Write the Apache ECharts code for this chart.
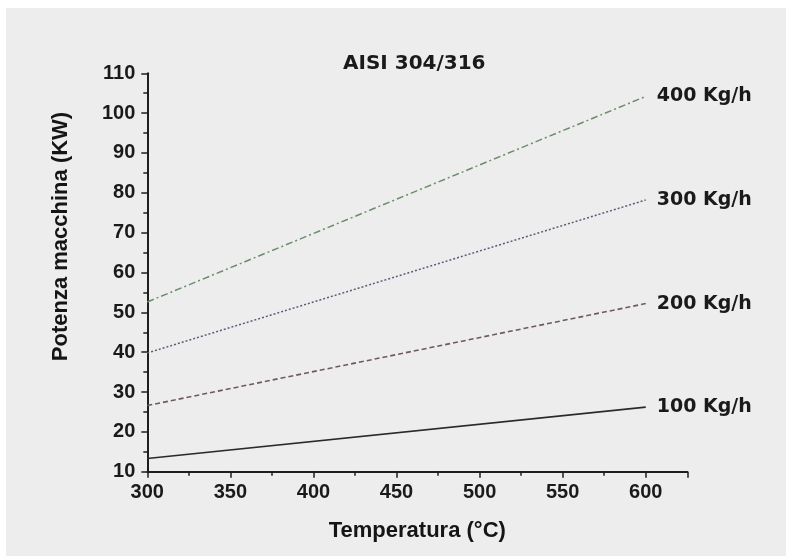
<!DOCTYPE html>
<html>
<head>
<meta charset="utf-8">
<script src="https://cdn.jsdelivr.net/npm/echarts@6/dist/echarts.min.js"></script>
<style>
  html, body { margin: 0; padding: 0; background: #ffffff; width: 786px; height: 556px; overflow: hidden; }
  #chart { position: absolute; left: 6px; top: 8px; width: 780px; height: 548px; background: #ededed; }
</style>
</head>
<body>
<div id="chart"></div>
<script>
// ---- data ----
const titleText = 'AISI 304/316';
const xAxisName = 'Temperatura (°C)';
const yAxisName = 'Potenza macchina (KW)';
const temperatures = [300, 600];
const seriesNames = ['400 Kg/h', '300 Kg/h', '200 Kg/h', '100 Kg/h'];
const power400 = [52.6, 104.2];
const power300 = [39.8, 78.2];
const power200 = [26.6, 52.2];
const power100 = [13.3, 26.2];
const xTicks = { min: 300, max: 625, interval: 50 };
const yTicks = { min: 10, max: 110, interval: 10 };

// ---- styles ----
const seriesValues = [power400, power300, power200, power100];
const lineStyles = [
  { color: '#6c8d6d', width: 1.5, type: [7, 3, 2, 3] },
  { color: '#5c5c78', width: 1.5, type: [2, 2] },
  { color: '#6e5a5d', width: 1.6, type: [5, 3] },
  { color: '#2a2a2a', width: 1.6, type: 'solid' }
];

const chart = echarts.init(document.getElementById('chart'), null, { renderer: 'canvas' });

const series = seriesNames.map((name, i) => ({
  name: name,
  type: 'line',
  data: temperatures.map((t, j) => [t, seriesValues[i][j]]),
  showSymbol: false,
  symbol: 'none',
  lineStyle: lineStyles[i],
  emphasis: { disabled: true },
  endLabel: {
    show: true,
    formatter: '{a}',
    distance: 11,
    fontFamily: 'DejaVu Sans',
    fontWeight: 'bold',
    fontSize: 19,
    color: '#1a1a1a'
  }
}));

const axisCommon = {
  axisLine: { show: true, lineStyle: { color: '#1e1e1e', width: 2 } },
  axisTick: { show: true, inside: false, length: 6, lineStyle: { color: '#1e1e1e', width: 1.5 } },
  minorTick: { show: true, splitNumber: 2, length: 4, lineStyle: { color: '#1e1e1e', width: 1.5 } },
  splitLine: { show: false }
};

const tickLabelStyle = { fontFamily: 'Liberation Sans', fontWeight: 'bold', fontSize: 20, color: '#1a1a1a' };

chart.setOption({
  animation: false,
  backgroundColor: 'transparent',
  title: {
    text: titleText,
    left: 337,
    top: 46,
    padding: 0,
    textStyle: { fontFamily: 'DejaVu Sans', fontSize: 20, fontWeight: 'bold', color: '#1a1a1a' }
  },
  grid: { left: 141.3, right: 98.7, top: 65.3, bottom: 84.3, containLabel: false },
  xAxis: Object.assign({}, axisCommon, {
    type: 'value',
    min: xTicks.min,
    max: xTicks.max,
    interval: xTicks.interval,
    name: xAxisName,
    nameLocation: 'middle',
    nameGap: 48,
    nameTextStyle: { fontFamily: 'Liberation Sans', fontWeight: 'bold', fontSize: 22, color: '#151515' },
    axisLabel: Object.assign({ margin: 11, showMaxLabel: false }, tickLabelStyle)
  }),
  yAxis: Object.assign({}, axisCommon, {
    type: 'value',
    min: yTicks.min,
    max: yTicks.max,
    interval: yTicks.interval,
    name: yAxisName,
    nameLocation: 'middle',
    nameGap: 75,
    nameTextStyle: { fontFamily: 'Liberation Sans', fontWeight: 'bold', fontSize: 22, color: '#151515', padding: [0, 0, 0, 72] },
    axisLabel: Object.assign({ margin: 12 }, tickLabelStyle)
  }),
  series: series
});
</script>
</body>
</html>
